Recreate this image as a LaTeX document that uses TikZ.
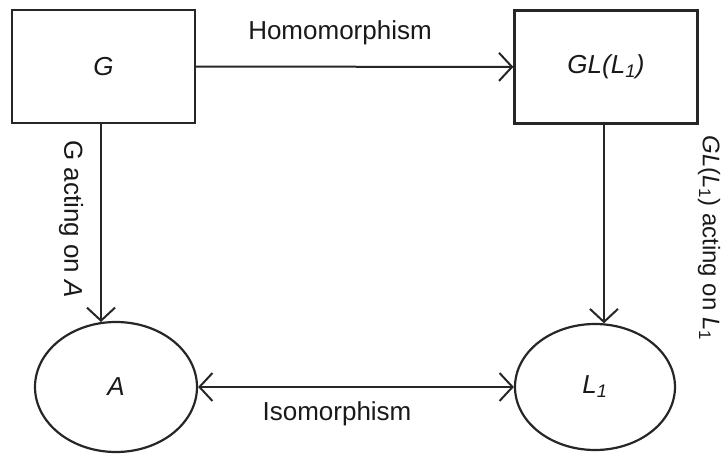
\documentclass[tikz,border=0pt]{standalone}
\usepackage{fontspec}
\setmainfont{Liberation Sans}
\usetikzlibrary{arrows.meta,shapes.geometric}
\begin{document}
\begin{tikzpicture}[x=1pt,y=-1pt,
  every node/.style={font=\fontsize{26}{30}\selectfont, text=black!90},
  box/.style={draw=black!85, line width=2.2pt, minimum width=183pt, minimum height=113pt, inner sep=0pt},
  oval/.style={draw=black!85, line width=2.2pt, ellipse, inner sep=0pt},
  arr/.style={draw=black!85, line width=2pt, -{Straight Barb[length=13pt,width=28pt,line width=2pt]}},
  darr/.style={draw=black!85, line width=2pt, {Straight Barb[length=13pt,width=28pt,line width=2pt]}-{Straight Barb[length=13pt,width=28pt,line width=2pt]}},
  lbl/.style={inner sep=0pt}
]
\useasboundingbox (0,0) rectangle (724,460);
\node[box] (G) at (103.5,66.5) {\itshape G};
\node[box] (GL) at (606,67) {\itshape GL(L\textsubscript{1})};
\node[oval, minimum width=162pt, minimum height=130pt] (A) at (116,387) {\itshape A};
\node[oval, minimum width=160pt, minimum height=126pt] (L) at (595,387) {\itshape L\textsubscript{1}};
\draw[arr] (G) -- (GL);
\draw[arr] (G.south -| A.103.2) -- (A.103.2);
\draw[arr] (GL.south -| L.82.6) -- (L.82.6);
\draw[darr] (A) -- (L);
\node[lbl] (hom) at (340,33) {Homomorphism};
\node[lbl] (iso) at (337,414) {Isomorphism};
\node[lbl, rotate=-90] (lg) at (71,219) {G acting on \textit{A}};
\node[lbl, rotate=-90, font=\fontsize{24}{28}\selectfont] (lgl) at (709,238) {\textit{GL}(\textit{L}\textsubscript{1}) acting on \textit{L}\textsubscript{1}};
\end{tikzpicture}
\end{document}
